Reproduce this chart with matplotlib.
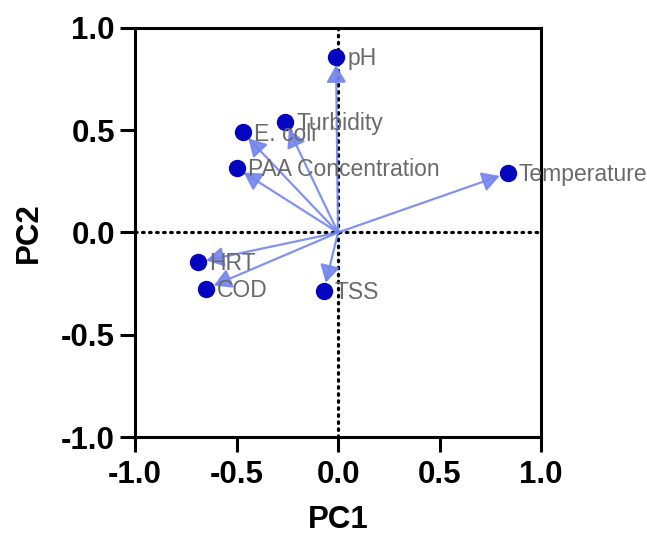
import matplotlib
matplotlib.use("Agg")
import matplotlib.pyplot as plt
from matplotlib.patches import FancyArrowPatch

labels = ["pH", "Turbidity", "E. coli", "PAA Concentration", "Temperature", "HRT", "COD", "TSS"]
pc1 = [-0.01, -0.26, -0.47, -0.50, 0.835, -0.69, -0.65, -0.07]
pc2 = [0.86, 0.54, 0.49, 0.315, 0.29, -0.145, -0.275, -0.285]
ticks = [-1.0, -0.5, 0.0, 0.5, 1.0]
tick_labels = ["-1.0", "-0.5", "0.0", "0.5", "1.0"]

plt.rcParams['font.family'] = ['Liberation Sans', 'DejaVu Sans']

fig = plt.figure(figsize=(6.47, 5.38), dpi=100)
ax = fig.add_axes([0.2087, 0.1877, 0.6275, 0.7603])
ax.set_xlim(-1, 1)
ax.set_ylim(-1, 1)

# reference dotted lines
ax.axhline(0, color='black', lw=2.3, linestyle=(0, (0.5, 1.7)), dash_capstyle='round', zorder=1)
ax.axvline(0, color='black', lw=2.3, linestyle=(0, (0.5, 1.7)), dash_capstyle='round', zorder=1)

arrow_color = '#7486ee'
for x, y in zip(pc1, pc2):
    arr = FancyArrowPatch((0, 0), (x, y), arrowstyle='-|>,head_length=7,head_width=4',
                          mutation_scale=1.5, color=arrow_color, lw=1.6, alpha=0.9,
                          shrinkA=0, shrinkB=6, zorder=3)
    ax.add_patch(arr)

ax.plot(pc1, pc2, 'o', color='#0505c0', markersize=11.5, zorder=4, linestyle='none')

fs_lab = 16.5
for lab, x, y in zip(labels, pc1, pc2):
    ax.annotate(lab, (x, y), xytext=(8, -0.36 * fs_lab), textcoords='offset points',
                ha='left', va='baseline', fontsize=fs_lab, color='#6a6a6a', zorder=5,
                annotation_clip=False)

ax.set_xticks(ticks)
ax.set_xticklabels(tick_labels)
ax.set_yticks(ticks)
ax.set_yticklabels(tick_labels)
for lbl in ax.get_xticklabels() + ax.get_yticklabels():
    lbl.set_fontweight('bold')
    lbl.set_fontsize(22.5)
ax.tick_params(axis='both', direction='out', length=10.5, width=2.2, pad=4)
ax.tick_params(axis='x', pad=6)
for sp in ax.spines.values():
    sp.set_linewidth(2.2)

ax.set_xlabel("PC1", fontsize=22.5, fontweight='bold', labelpad=11)
ax.set_ylabel("PC2", fontsize=22.5, fontweight='bold', labelpad=12)

fig.savefig("out.png", dpi=100)
